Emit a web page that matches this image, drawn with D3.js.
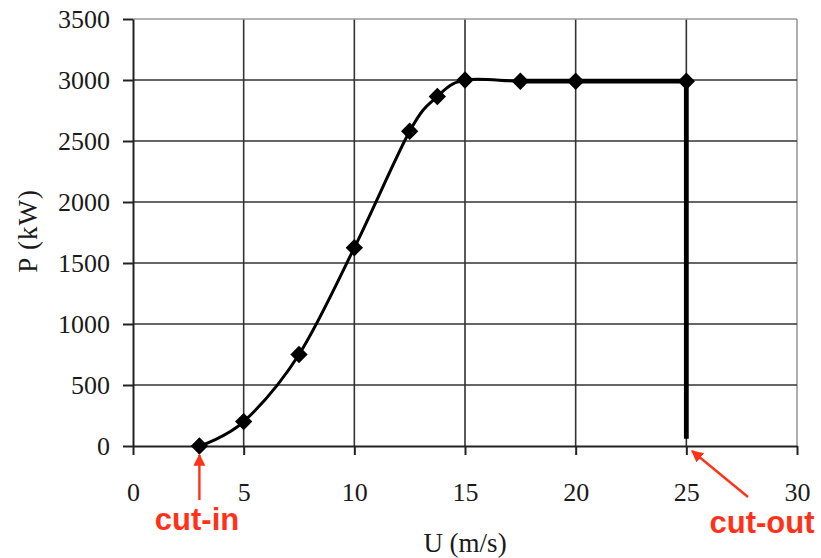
<!DOCTYPE html>
<html>
<head>
<meta charset="utf-8">
<script src="https://cdn.jsdelivr.net/npm/d3@7/dist/d3.min.js"></script>
<style>
  html, body { margin: 0; padding: 0; background: #fff; }
  svg { display: block; }
</style>
</head>
<body>
<svg id="chart" width="821" height="558"></svg>
<script>
// Wind turbine power curve: wind speed U (m/s) vs. power P (kW)
const windSpeed = [3, 5, 7.5, 10, 12.5, 13.75, 15, 17.5, 20, 25];
const power     = [0, 200, 750, 1625, 2580, 2865, 3000, 2990, 2990, 2990];

// rated plateau and cut-out drop
const ratedSpeed = [17.5, 20, 25, 25];
const ratedPower = [2990, 2990, 2990, 60];

const xTicks = [0, 5, 10, 15, 20, 25, 30];
const yTicks = [0, 500, 1000, 1500, 2000, 2500, 3000, 3500];

const svg = d3.select("#chart");
svg.append("rect").attr("width", 821).attr("height", 558).attr("fill", "#fff");

const x = d3.scaleLinear().domain([0, 30]).range([133, 797]);
const y = d3.scaleLinear().domain([0, 3500]).range([446, 19]);

const serif = "'Liberation Serif', 'Times New Roman', serif";
const red = "#ff3219";

// grid
const grid = svg.append("g");
grid.selectAll("line.v").data(xTicks.filter(d => d > 0)).join("line")
  .attr("x1", d => x(d)).attr("x2", d => x(d))
  .attr("y1", y(0)).attr("y2", y(3500))
  .attr("stroke", d => d === 30 ? "#9a9a9a" : "#333")
  .attr("stroke-width", 1.6);
grid.selectAll("line.h").data(yTicks.filter(d => d > 0)).join("line")
  .attr("x1", x(0)).attr("x2", x(30))
  .attr("y1", d => y(d)).attr("y2", d => y(d))
  .attr("stroke", d => d === 3500 ? "#9a9a9a" : "#333")
  .attr("stroke-width", 1.6);

// axes
const yAxis = svg.append("g").attr("transform", `translate(${x(0)},0)`)
  .call(d3.axisLeft(y).tickValues(yTicks).tickFormat(d3.format("d"))
    .tickSize(10).tickSizeOuter(0).tickPadding(13));
const xAxis = svg.append("g").attr("transform", `translate(0,${y(0)})`)
  .call(d3.axisBottom(x).tickValues(xTicks).tickFormat(d3.format("d"))
    .tickSize(9).tickSizeOuter(0).tickPadding(28));
[xAxis, yAxis].forEach(g => {
  g.select(".domain").attr("stroke", "#222").attr("stroke-width", 2);
  g.selectAll(".tick line").attr("stroke", "#222").attr("stroke-width", 2);
  g.selectAll(".tick text").attr("font-family", serif).attr("font-size", 26).attr("fill", "#1a1a1a");
});

// axis titles
svg.append("text").attr("x", 465).attr("y", 552).attr("text-anchor", "middle")
  .attr("font-family", serif).attr("font-size", 27).attr("fill", "#1a1a1a").text("U (m/s)");
svg.append("text").attr("transform", "translate(37,231) rotate(-90)").attr("text-anchor", "middle")
  .attr("font-family", serif).attr("font-size", 27).attr("letter-spacing", 1).attr("fill", "#1a1a1a").text("P (kW)");

// smoothed power curve
const pts = windSpeed.map((u, i) => [u, power[i]]);
const line = d3.line().x(d => x(d[0])).y(d => y(d[1])).curve(d3.curveCatmullRom.alpha(0));
svg.append("path").attr("d", line(pts)).attr("fill", "none")
  .attr("stroke", "#000").attr("stroke-width", 3);

// rated plateau and cut-out
const rated = ratedSpeed.map((u, i) => [u, ratedPower[i]]);
svg.append("path").attr("d", d3.line().x(d => x(d[0])).y(d => y(d[1]))(rated))
  .attr("fill", "none").attr("stroke", "#000").attr("stroke-width", 4.8);

// diamond markers
const diamond = d3.symbol().type(d3.symbolSquare).size(150);
svg.selectAll("path.mk").data(pts).join("path")
  .attr("d", diamond)
  .attr("transform", d => `translate(${x(d[0])},${y(d[1])}) rotate(45)`)
  .attr("fill", "#000");

// annotations
const defs = svg.append("defs");
defs.append("marker").attr("id", "head").attr("viewBox", "0 0 10 10")
  .attr("refX", 9).attr("refY", 5).attr("markerWidth", 5).attr("markerHeight", 5)
  .attr("markerUnits", "strokeWidth").attr("orient", "auto")
  .append("path").attr("d", "M0,0 L10,5 L0,10 Z").attr("fill", red);

svg.append("line").attr("x1", x(3)).attr("y1", 500).attr("x2", x(3)).attr("y2", 455)
  .attr("stroke", red).attr("stroke-width", 2.4).attr("marker-end", "url(#head)");
svg.append("line").attr("x1", 748).attr("y1", 497).attr("x2", 692).attr("y2", 451)
  .attr("stroke", red).attr("stroke-width", 2.4).attr("marker-end", "url(#head)");

const sans = "'Liberation Sans', Arial, sans-serif";
svg.append("text").attr("x", 197).attr("y", 530).attr("text-anchor", "middle")
  .attr("font-family", sans).attr("font-weight", "bold").attr("font-size", 31)
  .attr("fill", red).text("cut-in");
svg.append("text").attr("x", 762).attr("y", 533).attr("text-anchor", "middle")
  .attr("font-family", sans).attr("font-weight", "bold").attr("font-size", 31)
  .attr("fill", red).text("cut-out");
</script>
</body>
</html>
